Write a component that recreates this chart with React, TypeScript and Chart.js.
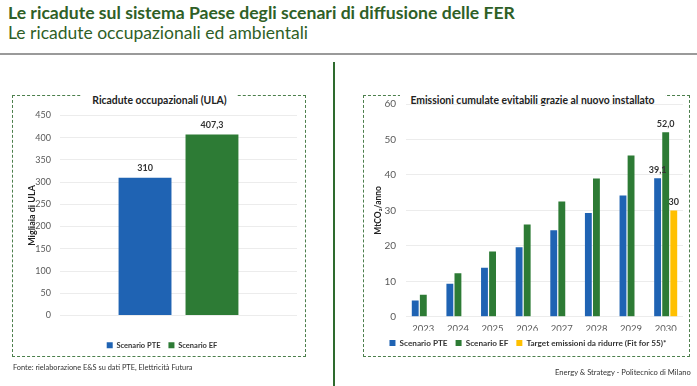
import React, { useEffect, useRef } from "react";
import { Chart, registerables } from "chart.js";

Chart.register(...registerables);

const FONT = "Lato, 'Open Sans', sans-serif";

// ---- Left chart data ----
const jobsCategories = [""];
const jobsPTE = [310];
const jobsEF = [407.3];
const jobsDecimals = [0, 1];

// ---- Right chart data ----
const years = ["2023", "2024", "2025", "2026", "2027", "2028", "2029", "2030"];
const emissionsPTE = [4.6, 9.3, 13.8, 19.6, 24.4, 29.3, 34.2, 39.1];
const emissionsEF = [6.2, 12.3, 18.4, 26.0, 32.5, 39.0, 45.5, 52.0];
const emissionsTarget = [null, null, null, null, null, null, null, 30];
const emissionsDecimals = [1, 1, 0];
const emissionsLabelledYears = ["2030"];

const BLUE = "#1f63b3";
const GREEN = "#2d7b35";
const YELLOW = "#ffc000";
const TITLE_GREEN = "#2f5f27";

const valueLabels = {
  id: "valueLabels",
  afterDatasetsDraw(chart: any, _args: any, opts: any) {
    const ctx = chart.ctx;
    const indices: number[] = opts.indices || [];
    const decimals: number[] = opts.decimals || [];
    ctx.save();
    ctx.font = `bold ${opts.size || 9}px ${FONT}`;
    ctx.fillStyle = "#333333";
    ctx.textAlign = "center";
    ctx.textBaseline = "bottom";
    chart.data.datasets.forEach((ds: any, di: number) => {
      const meta = chart.getDatasetMeta(di);
      indices.forEach((i) => {
        const v = ds.data[i];
        if (v === null || v === undefined) return;
        const el = meta.data[i];
        const txt = Number(v).toFixed(decimals[di] ?? 0).replace(".", ",");
        ctx.fillText(txt, el.x, el.y - (opts.offset || 4));
      });
    });
    ctx.restore();
  },
};

function JobsChart() {
  const ref = useRef<HTMLCanvasElement>(null);
  useEffect(() => {
    const chart = new Chart(ref.current!, {
      type: "bar",
      data: {
        labels: jobsCategories,
        datasets: [
          { label: "Scenario PTE", data: jobsPTE, backgroundColor: BLUE },
          { label: "Scenario EF", data: jobsEF, backgroundColor: GREEN },
        ],
      },
      options: {
        animation: false,
        responsive: false,
        maintainAspectRatio: false,
        layout: { padding: { top: 0, right: 6, bottom: 5, left: 14 } },
        datasets: { bar: { categoryPercentage: 0.565, barPercentage: 0.79 } },
        scales: {
          x: {
            grid: { display: false, drawTicks: false },
            border: { display: false },
            ticks: { display: false },
            afterFit: (s: any) => {
              s.height = 18;
            },
          },
          y: {
            min: 0,
            max: 450,
            ticks: { stepSize: 50, padding: 9, color: "#595959", font: { family: FONT, size: 9 } },
            grid: { color: "#ececec", drawTicks: false },
            border: { display: false },
            title: {
              display: true,
              text: "Migliaia di ULA",
              color: "#222",
              font: { family: FONT, size: 9, weight: "bold" },
              padding: 0,
            },
            afterFit: (s: any) => {
              s.width = 33;
            },
          },
        },
        plugins: {
          legend: {
            position: "bottom",
            labels: {
              boxWidth: 6,
              boxHeight: 6,
              padding: 8,
              color: "#333",
              font: { family: FONT, size: 7.5, weight: "bold" },
            },
          },
          tooltip: { enabled: false },
          valueLabels: { indices: [0], decimals: jobsDecimals, size: 9, offset: 5 },
        } as any,
      },
      plugins: [valueLabels],
    } as any);
    return () => chart.destroy();
  }, []);
  return <canvas ref={ref} width={290} height={263} style={{ position: "absolute", left: 13, top: 101, width: 290, height: 263 }} />;
}

function EmissionsChart() {
  const ref = useRef<HTMLCanvasElement>(null);
  useEffect(() => {
    const chart = new Chart(ref.current!, {
      type: "bar",
      data: {
        labels: years,
        datasets: [
          { label: "Scenario PTE", data: emissionsPTE, backgroundColor: BLUE },
          { label: "Scenario EF", data: emissionsEF, backgroundColor: GREEN },
          { label: "Target emissioni da ridurre (Fit for 55)*", data: emissionsTarget, backgroundColor: YELLOW },
        ],
      },
      options: {
        animation: false,
        responsive: false,
        maintainAspectRatio: false,
        layout: { padding: { top: 0, right: 4, bottom: 6, left: 8 } },
        datasets: { bar: { categoryPercentage: 0.7, barPercentage: 0.85 } },
        scales: {
          x: {
            grid: { display: false, drawTicks: false },
            border: { display: false },
            ticks: { color: "#595959", padding: 6, font: { family: FONT, size: 9.5 } },
            afterFit: (s: any) => {
              s.height = 14;
            },
          },
          y: {
            min: 0,
            max: 60,
            ticks: { stepSize: 10, padding: 10, color: "#595959", font: { family: FONT, size: 10 } },
            grid: { color: "#ececec", drawTicks: false },
            border: { display: false },
            title: {
              display: true,
              text: "MtCO₂/anno",
              color: "#222",
              font: { family: FONT, size: 8.5, weight: "bold" },
              padding: 0,
            },
            afterFit: (s: any) => {
              s.width = 33;
            },
          },
        },
        plugins: {
          legend: {
            position: "bottom",
            labels: {
              boxWidth: 6,
              boxHeight: 6,
              padding: 8,
              color: "#333",
              font: { family: FONT, size: 8.2, weight: "bold" },
            },
          },
          tooltip: { enabled: false },
          valueLabels: {
            indices: emissionsLabelledYears.map((y) => years.indexOf(y)),
            decimals: emissionsDecimals,
            size: 9,
            offset: 4,
          },
        } as any,
      },
      plugins: [valueLabels],
    } as any);
    return () => chart.destroy();
  }, []);
  return <canvas ref={ref} width={322} height={275} style={{ position: "absolute", left: 365, top: 88, width: 322, height: 275 }} />;
}

function DashedBox(props: { left: number; top: number; width: number; height: number; title: string; titleCenter: number }) {
  const { left, top, width, height, title, titleCenter } = props;
  return (
    <>
      <div
        style={{
          position: "absolute",
          left,
          top,
          width,
          height,
          border: "1px dashed #4c7f4c",
          boxSizing: "border-box",
        }}
      />
      <div
        style={{
          position: "absolute",
          left: titleCenter - 150,
          width: 300,
          top: top - 7,
          textAlign: "center",
          pointerEvents: "none",
        }}
      >
        <span
          style={{
            background: "#fff",
            padding: "0 10px",
            fontFamily: FONT,
            fontWeight: 700,
            fontSize: 10.4,
            color: "#222",
            lineHeight: "14px",
          }}
        >
          {title}
        </span>
      </div>
    </>
  );
}

export default function App() {
  return (
    <div
      style={{
        position: "fixed",
        left: 0,
        top: 0,
        width: 697,
        height: 386,
        background: "#fff",
        overflow: "hidden",
        fontFamily: FONT,
      }}
    >
      <div style={{ position: "absolute", left: 8, top: 3, fontSize: 17.6, lineHeight: "20px", fontWeight: 700, color: TITLE_GREEN, whiteSpace: "nowrap" }}>
        Le ricadute sul sistema Paese degli scenari di diffusione delle FER
      </div>
      <div style={{ position: "absolute", left: 8, top: 23, fontSize: 17.5, lineHeight: "20px", color: TITLE_GREEN, whiteSpace: "nowrap" }}>
        Le ricadute occupazionali ed ambientali
      </div>
      <div style={{ position: "absolute", left: 0, top: 53, width: 697, height: 2, background: "#9a9a9a" }} />
      <div style={{ position: "absolute", left: 333, top: 62, width: 1.5, height: 324, background: "#2e6b2e" }} />

      <DashedBox left={12} top={95} width={294} height={262} title="Ricadute occupazionali (ULA)" titleCenter={159.5} />
      <DashedBox left={363} top={95} width={327} height={262} title="Emissioni cumulate evitabili grazie al nuovo installato" titleCenter={532.5} />

      <JobsChart />
      <EmissionsChart />

      <div style={{ position: "absolute", left: 13, top: 363, fontSize: 7.4, lineHeight: "10px", color: "#333", whiteSpace: "nowrap" }}>
        Fonte: rielaborazione E&amp;S su dati PTE, Elettricità Futura
      </div>
      <div style={{ position: "absolute", left: 555, top: 367, fontSize: 7.6, lineHeight: "10px", color: "#333", whiteSpace: "nowrap" }}>
        Energy &amp; Strategy - Politecnico di Milano
      </div>
    </div>
  );
}
